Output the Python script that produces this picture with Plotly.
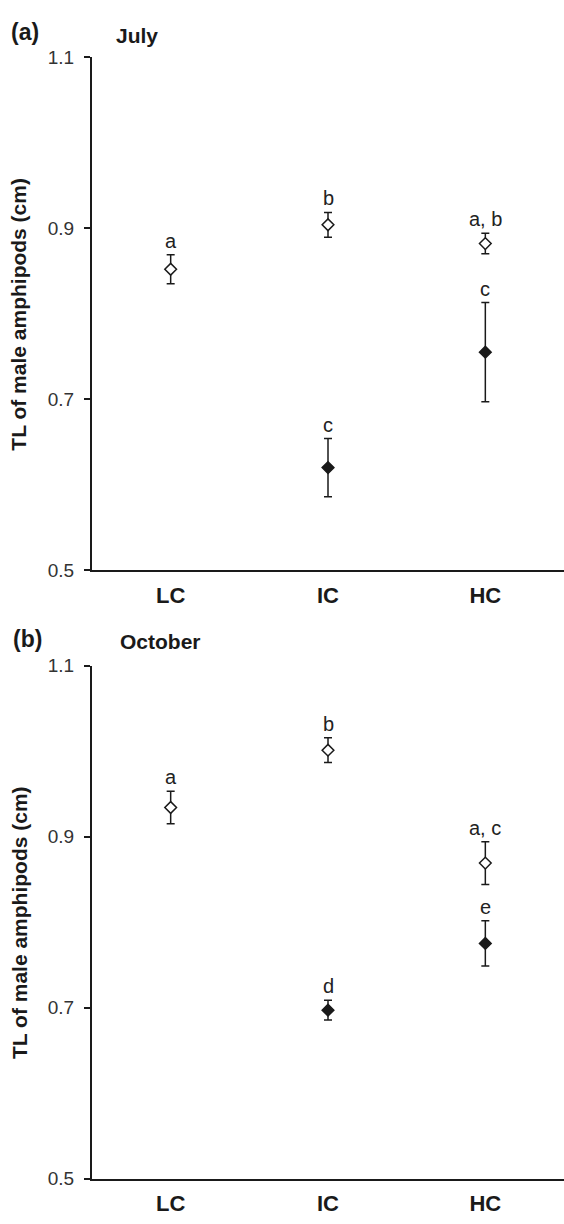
import plotly.graph_objects as go

categories = ["LC", "IC", "HC"]

july_open_mean = [0.852, 0.904, 0.882]
july_open_se = [0.017, 0.0145, 0.012]
july_open_letters = ["a", "b", "a, b"]
july_filled_cats = ["IC", "HC"]
july_filled_mean = [0.620, 0.755]
july_filled_se = [0.034, 0.058]
july_filled_letters = ["c", "c"]

oct_open_mean = [0.934, 1.001, 0.869]
oct_open_se = [0.019, 0.0145, 0.025]
oct_open_letters = ["a", "b", "a, c"]
oct_filled_cats = ["IC", "HC"]
oct_filled_mean = [0.697, 0.775]
oct_filled_se = [0.0115, 0.0265]
oct_filled_letters = ["d", "e"]

y_ticks = [0.5, 0.7, 0.9, 1.1]
y_title = "TL of male amphipods (cm)"

W, H = 564, 1224
FONT = "Liberation Sans, Arial, sans-serif"
INK = "#1a1a1a"

fig = go.Figure()

def add_panel(xr, yr, cats_o, m_o, se_o, cats_f, m_f, se_f):
    fig.add_trace(go.Scatter(
        x=cats_o, y=m_o, mode="markers", xaxis=xr, yaxis=yr,
        marker=dict(symbol="diamond", size=9, color="white",
                    line=dict(color=INK, width=1.5)),
        error_y=dict(type="data", array=se_o, visible=True,
                     color=INK, thickness=1.5, width=4),
        showlegend=False, cliponaxis=False))
    fig.add_trace(go.Scatter(
        x=cats_f, y=m_f, mode="markers", xaxis=xr, yaxis=yr,
        marker=dict(symbol="diamond", size=9, color=INK,
                    line=dict(color=INK, width=1.5)),
        error_y=dict(type="data", array=se_f, visible=True,
                     color=INK, thickness=1.5, width=4),
        showlegend=False, cliponaxis=False))

add_panel("x", "y", categories, july_open_mean, july_open_se,
          july_filled_cats, july_filled_mean, july_filled_se)
add_panel("x2", "y2", categories, oct_open_mean, oct_open_se,
          oct_filled_cats, oct_filled_mean, oct_filled_se)

annotations = []

def letters(xr, yr, cats, means, ses, labs):
    for c, m, s, l in zip(cats, means, ses, labs):
        annotations.append(dict(
            x=c, y=m + s, xref=xr, yref=yr, text=l, showarrow=False,
            yanchor="bottom", xanchor="center", yshift=1,
            font=dict(family=FONT, size=20, color="#222")))

letters("x", "y", categories, july_open_mean, july_open_se, july_open_letters)
letters("x", "y", july_filled_cats, july_filled_mean, july_filled_se, july_filled_letters)
letters("x2", "y2", categories, oct_open_mean, oct_open_se, oct_open_letters)
letters("x2", "y2", oct_filled_cats, oct_filled_mean, oct_filled_se, oct_filled_letters)

# panel labels / titles
def ptext(xpx, ypx, text, size, bold=True, angle=0):
    annotations.append(dict(
        x=xpx / W, y=1 - ypx / H, xref="paper", yref="paper",
        text=f"<b>{text}</b>" if bold else text, showarrow=False,
        xanchor="center", yanchor="middle", textangle=angle,
        font=dict(family=FONT, size=size, color=INK)))

ptext(25, 22, "(a)", 23)
ptext(137, 26, "July", 21)
ptext(27, 640, "(b)", 23)
ptext(160, 643, "October", 21)
ptext(19, 310, y_title, 21, angle=-90)
ptext(19, 929, y_title, 21, angle=-90)

xdom = [92 / W, 1.0]
ydom_a = [1 - 570 / H, 1 - 48 / H]
ydom_b = [1 - 1189 / H, 1 - 667 / H]

xaxis_common = dict(
    type="category", categoryorder="array", categoryarray=categories,
    range=[-0.5, 2.5], domain=xdom, showline=True, linecolor=INK,
    linewidth=2, ticks="", showgrid=False, zeroline=False,
    tickfont=dict(family=FONT, size=22, color=INK),
    tickvals=categories, ticktext=[f"<b>{c}</b>" for c in categories],
    ticklabelstandoff=4)
yaxis_common = dict(
    range=[0.5, 1.1], tickvals=y_ticks,
    ticktext=[f"{v:.1f}" for v in y_ticks],
    showline=True, linecolor=INK, linewidth=2, ticks="outside",
    ticklen=6, tickwidth=1.5, tickcolor=INK, showgrid=False,
    zeroline=False, tickfont=dict(family=FONT, size=19, color="#333"),
    ticklabelstandoff=6)

fig.update_layout(
    width=W, height=H, margin=dict(l=0, r=0, t=0, b=0),
    plot_bgcolor="white", paper_bgcolor="white",
    xaxis=dict(**xaxis_common, anchor="y"),
    yaxis=dict(**yaxis_common, domain=ydom_a, anchor="x"),
    xaxis2=dict(**xaxis_common, anchor="y2"),
    yaxis2=dict(**yaxis_common, domain=ydom_b, anchor="x2"),
    annotations=annotations,
    showlegend=False)

fig.write_html("out.html")
